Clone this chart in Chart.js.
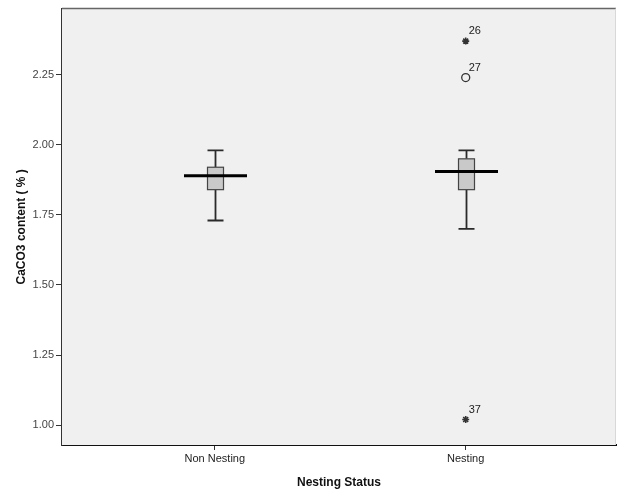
<!DOCTYPE html>
<html>
<head>
<meta charset="utf-8">
<script src="https://cdn.jsdelivr.net/npm/chart.js@4"></script>
<style>
  html, body { margin: 0; padding: 0; background: #ffffff; }
  #wrap { width: 617px; height: 492px; }
</style>
</head>
<body>
<div id="wrap"><canvas id="myChart" width="617" height="492"></canvas></div>
<script>
// Dados do boxplot
const categories = ["Non Nesting", "Nesting"];
const whiskerLow = [1.73, 1.70];
const q1 = [1.84, 1.84];
const median = [1.89, 1.905];
const q3 = [1.92, 1.95];
const whiskerHigh = [1.98, 1.98];

// Outliers (índice da categoria, valor, rótulo, tipo)
const outlierCat = [1, 1, 1];
const outlierValues = [2.37, 2.24, 1.02];
const outlierLabels = ["26", "27", "37"];
const outlierStyle = ["star", "circle", "star"];

const yTicks = [1.00, 1.25, 1.50, 1.75, 2.00, 2.25];

// Fundo cinza da área do gráfico e borda superior
const areaPlugin = {
  id: "areaPlugin",
  beforeDatasetsDraw(chart) {
    const { ctx, chartArea: a } = chart;
    ctx.save();
    ctx.fillStyle = "#f0f0f0";
    ctx.fillRect(a.left, a.top, a.right - a.left, a.bottom - a.top);
    ctx.strokeStyle = "#666666";
    ctx.lineWidth = 1.5;
    ctx.beginPath();
    ctx.moveTo(a.left, a.top);
    ctx.lineTo(a.right, a.top);
    ctx.stroke();
    ctx.strokeStyle = "#d8d8d8";
    ctx.lineWidth = 1;
    ctx.beginPath();
    ctx.moveTo(a.right - 0.5, a.top);
    ctx.lineTo(a.right - 0.5, a.bottom);
    ctx.stroke();
    ctx.restore();
  }
};

// Desenha caixas, bigodes e medianas usando as escalas do Chart.js
const boxPlugin = {
  id: "boxPlugin",
  beforeDatasetsDraw(chart) {
    const { ctx } = chart;
    const xs = chart.scales.x;
    const ys = chart.scales.y;
    ctx.save();
    categories.forEach(function(cat, i) {
      const cx = Math.round(xs.getPixelForValue(i)) + 0.5;
      const boxHalf = 8;
      const capHalf = 8;
      const medHalf = 31.5;
      const yLow = ys.getPixelForValue(whiskerLow[i]);
      const yQ1 = ys.getPixelForValue(q1[i]);
      const yMed = ys.getPixelForValue(median[i]);
      const yQ3 = ys.getPixelForValue(q3[i]);
      const yHigh = ys.getPixelForValue(whiskerHigh[i]);

      // bigodes
      ctx.strokeStyle = "#2a2a2a";
      ctx.lineWidth = 1.8;
      ctx.beginPath();
      ctx.moveTo(cx, yQ3);
      ctx.lineTo(cx, yHigh);
      ctx.moveTo(cx - capHalf, yHigh);
      ctx.lineTo(cx + capHalf, yHigh);
      ctx.moveTo(cx, yQ1);
      ctx.lineTo(cx, yLow);
      ctx.moveTo(cx - capHalf, yLow);
      ctx.lineTo(cx + capHalf, yLow);
      ctx.stroke();

      // caixa
      ctx.fillStyle = "#c9c9c9";
      ctx.fillRect(cx - boxHalf, yQ3, boxHalf * 2, yQ1 - yQ3);
      ctx.strokeStyle = "#444444";
      ctx.lineWidth = 1.2;
      ctx.strokeRect(cx - boxHalf, yQ3, boxHalf * 2, yQ1 - yQ3);

      // mediana
      ctx.strokeStyle = "#000000";
      ctx.lineWidth = 3;
      ctx.beginPath();
      ctx.moveTo(cx - medHalf, yMed);
      ctx.lineTo(cx + medHalf, yMed);
      ctx.stroke();
    });
    ctx.restore();
  },
  afterDatasetsDraw(chart) {
    const { ctx } = chart;
    const xs = chart.scales.x;
    const ys = chart.scales.y;
    ctx.save();
    ctx.fillStyle = "#222222";
    ctx.font = "11px 'Liberation Sans', Arial, sans-serif";
    ctx.textAlign = "left";
    ctx.textBaseline = "middle";
    outlierValues.forEach(function(v, i) {
      const px = xs.getPixelForValue(outlierCat[i]);
      const py = ys.getPixelForValue(v);
      ctx.fillText(outlierLabels[i], px + 3, py - 10);
    });
    ctx.restore();
  }
};

const ctx = document.getElementById("myChart").getContext("2d");
new Chart(ctx, {
  type: "scatter",
  data: {
    datasets: [{
      label: "Outliers",
      data: outlierValues.map(function(v, i) { return { x: outlierCat[i], y: v }; }),
      pointStyle: outlierStyle,
      pointRadius: outlierStyle.map(s => s === "star" ? 3.5 : 4),
      borderColor: "#333333",
      backgroundColor: outlierStyle.map(s => s === "star" ? "#222222" : "rgba(0,0,0,0)"),
      borderWidth: outlierStyle.map(s => s === "star" ? 1.6 : 1.3)
    }]
  },
  options: {
    responsive: false,
    animation: false,
    layout: { autoPadding: false, padding: { top: 8, right: 1, left: 0, bottom: 0 } },
    plugins: {
      legend: { display: false },
      tooltip: { enabled: false }
    },
    scales: {
      x: {
        type: "linear",
        min: -0.609,
        max: 1.599,
        afterBuildTicks: function(scale) {
          scale.ticks = categories.map((c, i) => ({ value: i }));
        },
        afterFit: function(scale) { scale.height = 47; },
        ticks: {
          callback: function(value) { return categories[value]; },
          color: "#222222",
          font: { family: "'Liberation Sans', Arial, sans-serif", size: 11 },
          padding: 2,
          maxRotation: 0
        },
        grid: { drawOnChartArea: false, drawTicks: true, tickLength: 5, tickColor: "#333333" },
        border: { display: true, color: "#111111", width: 2 },
        title: {
          display: true,
          text: "Nesting Status",
          color: "#111111",
          font: { family: "'Liberation Sans', Arial, sans-serif", size: 12, weight: "bold" },
          padding: { top: 0, bottom: 2 }
        }
      },
      y: {
        min: 0.929,
        max: 2.486,
        afterBuildTicks: function(scale) {
          scale.ticks = yTicks.map(v => ({ value: v }));
        },
        afterFit: function(scale) { scale.width = 62; },
        ticks: {
          callback: function(value) { return value.toFixed(2); },
          color: "#444444",
          font: { family: "'Liberation Sans', Arial, sans-serif", size: 11 },
          padding: 2
        },
        grid: { drawOnChartArea: false, drawTicks: true, tickLength: 6, tickColor: "#333333" },
        border: { display: true, color: "#333333", width: 1.5 },
        title: {
          display: true,
          text: "CaCO3 content ( % )",
          color: "#111111",
          font: { family: "'Liberation Sans', Arial, sans-serif", size: 12, weight: "bold" },
          padding: { top: 14, bottom: 0 }
        }
      }
    }
  },
  plugins: [areaPlugin, boxPlugin]
});
</script>
</body>
</html>
